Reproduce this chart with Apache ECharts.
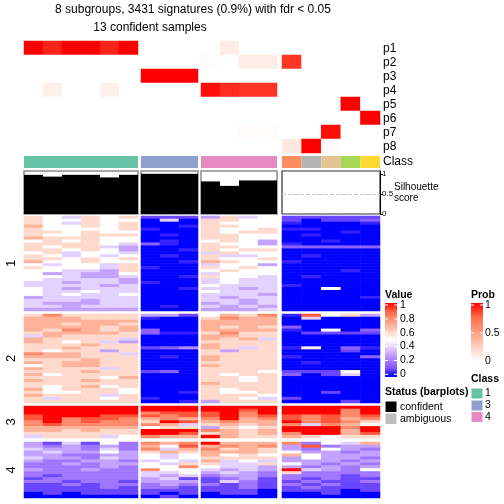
<!DOCTYPE html>
<html><head><meta charset="utf-8">
<script src="https://cdn.jsdelivr.net/npm/echarts@6/dist/echarts.min.js"></script>
<style>html,body{margin:0;padding:0;background:#fff}#c{width:504px;height:504px}</style>
</head><body><div id="c"></div>
<script>
// ---------------- data ----------------
const titleLine1 = '8 subgroups, 3431 signatures (0.9%) with fdr < 0.05';
const titleLine2 = '13 confident samples';
const blockSizes = [6, 3, 4, 5];
const sampleClass = [1,1,1,1,1,1, 3,3,3, 4,4,4,4, 2,8,7,5,6];
const classColors = {1:'#66C2A5',2:'#FC8D62',3:'#8DA0CB',4:'#E78AC3',5:'#A6D854',6:'#FFD92F',7:'#E5C494',8:'#B3B3B3'};
const probNames = ['p1','p2','p3','p4','p5','p6','p7','p8'];
const p1 = [1,0.92,1,1,0.92,1, 0,0,0, 0,0.1,0,0, 0,0,0,0,0];
const p2 = [0,0,0,0,0,0, 0,0,0, 0.02,0,0.1,0.1, 0.88,0,0,0,0];
const p3 = [0,0,0,0,0,0, 1,1,1, 0,0,0,0, 0,0,0,0,0];
const p4 = [0,0.08,0,0,0.08,0, 0,0,0, 0.97,0.9,0.88,0.88, 0,0,0,0,0];
const p5 = [0,0,0,0,0,0, 0,0,0, 0,0,0,0, 0,0,0,1,0];
const p6 = [0,0,0,0,0,0, 0,0,0, 0,0,0,0, 0,0,0,0,1];
const p7 = [0,0,0,0,0,0, 0,0,0, 0,0,0.02,0.02, 0,0,0.97,0,0];
const p8 = [0,0,0,0,0,0, 0,0,0, 0,0,0,0, 0.12,1,0.02,0,0];
const silhouette = [0.975,0.93,0.975,0.975,0.91,0.975, 1,1,1, 0.81,0.70,0.835,0.835, 0,0,0,0,0];
const rowGroupLabels = ['1','2','3','4'];
// heatmap rows (values in tenths, 10 = 1.0), 18 samples per row
const hm1Rows = [
[6,5,4,6,5,6, 1,1,1, 3,6,4,5, 1,1,1,1,1],
[6,5,5,6,5,5, 0,4,0, 6,6,5,5, 1,0,1,1,1.5],
[6,5,4,6,5,6, 0,0,0, 6,5,5,5, 0.5,0,0,0,0.5],
[7,5,5,6,5,6, 0,0,0.5, 6,6,5,5, 0,0,0,0,0],
[6,5,5,5,5,6, 0.5,0,0, 6,5,5,6, 0.5,0.5,0,0,0],
[6,6,5,6,5,5, 0,0,0, 6,5,6,6, 0,0,0,0.5,0],
[6,5,5,6,6,6, 0,0.5,0, 6,6,5,5, 0,0.5,0,0,0],
[7,6,6,6,5,5, 0,0,0, 6,6,5,5, 0,0,0,0,0],
[5,6,5,6,5,5, 0,0.5,0, 5,6,5,3, 0,0,0.5,0,0],
[6,6,6,6,5,4, 1.5,0.5,0, 6,5,5,3, 0.5,0,0,0,0],
[6,5,6,6,4,3, 0,0,0, 6,6,5,5, 1.5,1.5,1.5,1.5,1.5],
[6,6,5,6,5,3, 0,0,0.5, 6,5,6,6, 0,0,0,0,0],
[5,6,4,5,5,4, 0,0,0, 4,6,5,5, 0,0,0,0,0],
[6,5,4,5,4,5, 0,0.5,0, 6,4,4,5, 0,0.5,0,0,0],
[6,6,5,6,5,6, 0,0,0, 6,5,5,6, 0,0,0,0,0],
[7,5,5,6,5,5, 0,0,0.5, 7,6,5,5, 0.5,0,0,0,0],
[5,4,5,5,4,6, 0,0,0, 4,5,5,3, 0,0,0,0,0],
[6,5,5,5,4,6, 0.5,0,0, 6,5,6,5, 0,0,0,0,0],
[5,5,4,4,3,6, 0,0,0, 5,6,5,5, 0,0,0,0.5,0],
[5,3,4,3,3,5, 0,0,0, 4,5,5,5, 0,0,0,0,0],
[5,5,4,3,3,4, 0,0,0.5, 6,5,5,4, 0,0.5,0,0,0],
[5,4,4,4,4,3, 0,0,0, 4,5,4,4, 0,0,0,0,0],
[4,4,3,4,4,3, 0.5,0,0, 4,5,4,4, 0,0,0,0,0],
[4,4,4,4,3,4, 0,0,0, 5,4,4,4, 0.5,0,0,0,0],
[5,4,3,4,4,4, 0,0,0.5, 4,4,3,4, 0,0,5,0,0],
[5,4,4,5,4,4, 0,0,0, 5,4,4,4, 0,0,0,0,0],
[5,4,5,4,4,5, 0,0,0, 4,4,4,3, 0,0,0,0,0],
[3,4,4,4,4,4, 0,0,0, 4,3,4,4, 0,0,0,0,0.5],
[4,4,4,3,4,4, 0,0,0, 4,4,3,4, 0,0,0,0,0],
[4,3,3,3,4,4, 0,0,0, 3,4,3,4, 0,0,0,0,0],
[4,4,3,4,4,4, 0,0.5,0, 4,3,4,3, 0,0,0,0,0],
[3,3,3,3,3,3, 0,0,0, 3,3,3,4, 0,0,0,0,0]
];
const hm2Rows = [
[6,8,6,6,6,6, 3,3,1, 5,7,6,8, 0.5,9,5,6,3],
[7,7,7,6,6,6, 0.5,0,0, 6,8,7,7, 0,4,0,0,0],
[7,7,7,7,7,7, 0,0,0, 7,7,7,7, 0,0,0,0,0],
[7,7,6,7,7,6, 0,0,0, 7,7,7,7, 0,0,0,0,0],
[7,7,7,7,6,7, 0,0,0, 7,6,7,6, 1.5,0,0,0,0],
[7,6,8,7,6,7, 1.5,0,0, 7,7,7,7, 0.5,0,5,0,1.5],
[6,7,7,7,7,6, 1.5,0.5,0.5, 6,8,6,6, 0,1,1,1,1],
[4,7,6,6,6,6, 0,0,0, 7,7,6,6, 0,0,0,0,0],
[7,6,6,6,6,4, 0,0,0, 7,6,7,4, 0,0,0,0,0],
[7,6,5,6,4,3, 0,0,0, 6,6,6,6, 0,0,0,0,0],
[6,6,6,7,6,6, 0,0,0, 7,6,6,6, 0,0,0,0,0],
[6,6,7,6,6,6, 1,1.5,2.5, 7,6,4,6, 0.5,5.5,0,1.5,0.5],
[6,5,6,6,3,6, 0,0,0, 6,3,6,6, 0,0,0,1,0],
[8,7,7,6,6,4, 0,0,0, 6,6,6,6, 0,0,0,0,0],
[7,7,7,6,6,6, 0,0.5,0, 7,6,6,6, 0.5,0,0,0,1.5],
[6,6,6,7,6,6, 0,0,0, 7,6,6,6, 0,0,0,0,0],
[7,6,7,7,6,6, 0,0,0, 6,6,6,6, 0,0.5,0,0,0],
[5,6,7,7,6,6, 0,0,0, 7,6,6,6, 0,0,0,0,0],
[7,6,6,6,4,6, 0,0,0, 6,6,6,6, 0,0,0,0,0],
[6,6,6,7,6,6, 1,1.5,0, 6,6,6,5, 1,1,1,5,0],
[7,5,6,6,6,6, 0,0,0, 6,5,6,6, 1.5,0,1,4,0],
[6,6,6,6,5,7, 0,0,0, 6,6,5,6, 0,0,0,0,0],
[7,6,6,7,6,6, 0,0,0, 6,6,5,6, 0,0,0,0,0],
[6,6,6,6,6,6, 0,0,0, 7,6,6,6, 0,0,0,0,0],
[6,5,6,7,5,6, 0,0,0, 6,6,6,6, 0,0,0,0,0],
[7,5,6,6,6,5, 0,0,0, 6,5,6,6, 0,0,0,0,0],
[6,5,5,6,6,5, 0,0,0.5, 6,5,5,6, 0,0,1,0,0],
[7,6,6,6,4,6, 0,0,0, 6,6,6,5, 0,0,0,0,0],
[6,4,6,6,5,6, 0.5,0,0, 6,6,5,4, 1,0,0,0,0],
[6,6,6,6,6,6, 0,0,0.5, 3,6,6,6, 0,0,0,1,0]
];
const hm3Rows = [
[10,10,10,10,10,10, 10,10,10, 10,10,10,10, 10,10,10,10,10],
[10,10,10,10,10,10, 10,10,10, 10,10,9,10, 10,10,10,8,10],
[10,10,10,10,10,10, 8,9,9, 9,10,8,10, 10,10,10,8,10],
[9,10,10,10,9,9, 9,8,9, 9,10,8,9, 9,8,9,8,9],
[9,10,8,9,9,8, 7,8,7, 8,10,7,8, 9,8,9,7,8],
[8,10,8,9,8,8, 6,10,9, 7,8,7,7, 10,8,9,8,6],
[8,9,8,8,8,8, 8,7,4, 6,7,6,7, 8,4,8,7,5],
[7,7,7,7,7,7, 5,6,6, 3,6,5,6, 10,10,10,8,10],
[7,7,6,7,6,6, 10,10,10, 8,7,6,7, 10,10,10,7,10],
[6,6,6,6,6,6, 10,10,9, 6,7,6,7, 8,10,10,7,9],
[4,6,6,6,4,5, 8,7,7, 10,7,6,6, 7,6,5,6,6]
];
const hm4Rows = [
[3,1,4,1,5,2, 8,7,8, 10,7,7,7, 8,2,5,4,7],
[3,2,3,2,3,2, 7,5,9, 7,8,7,8, 3,9,2,3,3],
[4,3,3,2,4,2, 8,4,7, 8,6,7,6, 3,2,5,3,2],
[3,4,3,3,5,3, 6,7,6, 7,7,7,6, 5,3,3,2,3],
[3,3,2,2,3,3, 5,4,5, 7,5,6,5, 7,5,3,3,3],
[4,3,3,2,4,3, 5,4,5, 6,6,6,6, 3,5,3,3,2],
[3,2,2,3,3,2, 4,5,4, 7,4,5,4, 3,3,3,2,3],
[2,2,3,2,3,3, 5,4,6, 6,4,4,6, 5,3,2,3,2],
[2,2,2,2,3,2, 5,5,8, 5,4,4,3, 3,2,3,2,3],
[3,2,2,3,2,2, 8,5,5, 4,3,4,3, 10,4,3,2,5],
[2,2,2,2,2,2, 4,4,5, 3,4,3,2, 6,2,2,2,2],
[2,1,2,2,2,2, 4,3,4, 2,3,3,2, 2,2,2,1,2],
[1,2,2,2,2,2, 3,4,1, 1,2,3,1, 2,1,2,1,1],
[2,2,1,2,2,1, 3,3,3, 1,4,2,1, 1,2,1,1,2],
[1,1,2,1,2,2, 2,3,2, 2,1,2,1, 2,1,2,1,1],
[1,1,1,1,2,1, 2,2,1, 1,1,2,1, 1,2,1,1,1],
[1,1,1,1,1,1, 1,1,1, 1,1,1,0, 1,1,1,0,1],
[0,1,0,1,1,1, 1,0,1, 0,1,1,0, 0,0,1,0,0],
[0,0,0,0,0,0, 0,1,0, 0,0,0,0, 0,0,0,0,0]
];

// ---------------- layout ----------------
const FONT = 'Liberation Sans, Arial, Helvetica, sans-serif';
const blockX = [[24,138],[141,198],[201,277],[282,380]];
const rowGroupY = [[216,311],[314,403],[406,438],[442,498]];
const probY = [41,153], classY = [156,168], silY = [171,214];
const probs = [p1,p2,p3,p4,p5,p6,p7,p8];
const hmGroups = [hm1Rows, hm2Rows, hm3Rows, hm4Rows];

const grids=[], xAxes=[], yAxes=[], series=[];
const hmIdx=[], probIdx=[];
function addGrid(x0,x1,y0,y1,extra){
  grids.push(Object.assign({left:x0,top:y0,width:x1-x0,height:y1-y0,containLabel:false,outerBoundsMode:'none'},extra||{}));
  return grids.length-1;
}
let s0 = 0;
blockSizes.forEach((n,b)=>{
  const [x0,x1] = blockX[b];
  const cats = []; for(let i=0;i<n;i++) cats.push('s'+(s0+i));
  // probability heatmap
  let gi = addGrid(x0,x1,probY[0],probY[1]);
  xAxes.push({type:'category',gridIndex:gi,data:cats,show:false});
  yAxes.push({type:'category',gridIndex:gi,data:probNames,inverse:true,show:false});
  const pd=[]; probs.forEach((arr,r)=>{for(let i=0;i<n;i++) pd.push([i,r,arr[s0+i]]);});
  probIdx.push(series.length);
  series.push({type:'heatmap',xAxisIndex:gi,yAxisIndex:gi,data:pd,progressive:0,silent:true,emphasis:{disabled:true}});
  // class bar
  gi = addGrid(x0,x1,classY[0],classY[1]);
  xAxes.push({type:'category',gridIndex:gi,data:cats,show:false});
  yAxes.push({type:'value',gridIndex:gi,min:0,max:1,show:false});
  series.push({type:'bar',xAxisIndex:gi,yAxisIndex:gi,barWidth:'100%',barCategoryGap:'0%',silent:true,
    data:cats.map((c,i)=>({value:1,itemStyle:{color:classColors[sampleClass[s0+i]]}}))});
  // silhouette
  const last = b===blockSizes.length-1;
  gi = addGrid(x0,x1,silY[0],silY[1],{show:true,borderColor:last?'#333':'#8c8c8c',borderWidth:last?1.2:1.5,backgroundColor:'transparent'});
  xAxes.push({type:'category',gridIndex:gi,data:cats,show:false});
  yAxes.push(last ? {type:'value',gridIndex:gi,min:0,max:1.07,position:'right',
      axisLine:{show:true,lineStyle:{color:'#000',width:1}},
      axisTick:{show:true,customValues:[0,0.5,1],length:3,lineStyle:{color:'#000'}},
      axisLabel:{show:true,customValues:[0,0.5,1],fontSize:8,margin:2,color:'#000',fontFamily:FONT},
      splitLine:{show:false}}
    : {type:'value',gridIndex:gi,min:0,max:1.07,show:false});
  const sv = {type:'bar',xAxisIndex:gi,yAxisIndex:gi,barWidth:'100%',barCategoryGap:'0%',silent:true,
    itemStyle:{color:'#000'},data:silhouette.slice(s0,s0+n)};
  if(last) sv.markLine={silent:true,symbol:'none',label:{show:false},lineStyle:{type:'dashed',color:'#c8c8c8',width:1},data:[{yAxis:0.5}]};
  series.push(sv);
  // main heatmap groups
  hmGroups.forEach((rows,g)=>{
    const [y0,y1] = rowGroupY[g];
    const gj = addGrid(x0,x1,y0,y1);
    xAxes.push({type:'category',gridIndex:gj,data:cats,show:false});
    yAxes.push({type:'category',gridIndex:gj,data:rows.map((r,k)=>'r'+k),inverse:true,show:false});
    const d=[]; rows.forEach((row,r)=>{for(let i=0;i<n;i++) d.push([i,r,row[s0+i]/10]);});
    hmIdx.push(series.length);
    series.push({type:'heatmap',xAxisIndex:gj,yAxisIndex:gj,data:d,progressive:0,silent:true,emphasis:{disabled:true}});
  });
  s0 += n;
});

// ---------------- text & legends ----------------
const valueStops = ['#FF0000','#FF6C4A','#FF9E81','#FFCFBF','#FFFFFF','#DCC5FF','#B38BFF','#8457FF','#0000FF'];
const probStops = ['#FF0000','#FF6C4A','#FF9E81','#FFCFBF','#FFFFFF'];
function grad(stops){return {type:'linear',x:0,y:0,x2:0,y2:1,colorStops:stops.map((c,i)=>({offset:i/(stops.length-1),color:c}))};}
function txt(t,x,y,size,opt){return Object.assign({type:'text',x:x,y:y,silent:true,style:Object.assign({text:t,fontSize:size,fontFamily:FONT,fill:'#000',align:'left',verticalAlign:'middle'},opt||{})});}
const graphic = [];
graphic.push(txt(titleLine1,193,10,12,{align:'center'}));
graphic.push(txt(titleLine2,150,28,12,{align:'center'}));
probNames.forEach((p,r)=>graphic.push(txt(p,383,probY[0]+(r+0.5)*14+1,12)));
graphic.push(txt('Class',383,162,12));
graphic.push(txt('Silhouette',394,187,10));
graphic.push(txt('score',394,198,10));
rowGroupLabels.forEach((l,g)=>{
  const yc=(rowGroupY[g][0]+rowGroupY[g][1])/2;
  graphic.push({type:'text',x:11,y:yc,rotation:Math.PI/2,silent:true,style:{text:l,fontSize:13,fontFamily:FONT,fill:'#000',align:'center',verticalAlign:'middle'}});
});
const LS = 10.5;
// Value legend
graphic.push(txt('Value',385,295,LS,{fontWeight:'bold'}));
graphic.push({type:'rect',silent:true,shape:{x:385,y:303,width:12,height:74},style:{fill:grad(valueStops)}});
const valueTicks=['1','0.8','0.6','0.4','0.2','0'];
valueTicks.forEach((t,i)=>{
  const y=305+i*13.86;
  graphic.push({type:'line',silent:true,shape:{x1:385,y1:y,x2:388,y2:y},style:{stroke:'#fff',lineWidth:1}});
  graphic.push({type:'line',silent:true,shape:{x1:394,y1:y,x2:397,y2:y},style:{stroke:'#fff',lineWidth:1}});
  graphic.push(txt(t,400,y,LS));
});
// Prob legend
graphic.push(txt('Prob',471,295,LS,{fontWeight:'bold'}));
graphic.push({type:'rect',silent:true,shape:{x:471,y:303,width:12,height:58},style:{fill:grad(probStops)}});
[['1',305],['0.5',333],['0',361]].forEach(([t,y])=>{
  graphic.push({type:'line',silent:true,shape:{x1:471,y1:y,x2:474,y2:y},style:{stroke:'#fff',lineWidth:1}});
  graphic.push({type:'line',silent:true,shape:{x1:480,y1:y,x2:483,y2:y},style:{stroke:'#fff',lineWidth:1}});
  graphic.push(txt(t,485,y,LS));
});
// Status legend
graphic.push(txt('Status (barplots)',385,392,LS,{fontWeight:'bold'}));
graphic.push({type:'rect',silent:true,shape:{x:385,y:401,width:12,height:11.5},style:{fill:'#000',stroke:'#fff',lineWidth:1}});
graphic.push({type:'rect',silent:true,shape:{x:385,y:413,width:12,height:11.5},style:{fill:'#BEBEBE',stroke:'#fff',lineWidth:1}});
graphic.push(txt('confident',400,407,LS));
graphic.push(txt('ambiguous',400,419,LS));
// Class legend
graphic.push(txt('Class',471,379,LS,{fontWeight:'bold'}));
[[1,388,393.5],[3,400,405],[4,411.5,417]].forEach(([c,y,ty])=>{
  graphic.push({type:'rect',silent:true,shape:{x:471,y:y,width:12,height:11},style:{fill:classColors[c],stroke:'#fff',lineWidth:1}});
  graphic.push(txt(String(c),485,ty,LS));
});

const chart = echarts.init(document.getElementById('c'),null,{renderer:'canvas'});
chart.setOption({
  animation:false,
  backgroundColor:'#fff',
  grid:grids, xAxis:xAxes, yAxis:yAxes, series:series,
  visualMap:[
    {type:'continuous',show:false,min:0,max:1,seriesIndex:hmIdx,inRange:{color:valueStops.slice().reverse()}},
    {type:'continuous',show:false,min:0,max:1,seriesIndex:probIdx,inRange:{color:probStops.slice().reverse()}}
  ],
  graphic:graphic
});
</script></body></html>
